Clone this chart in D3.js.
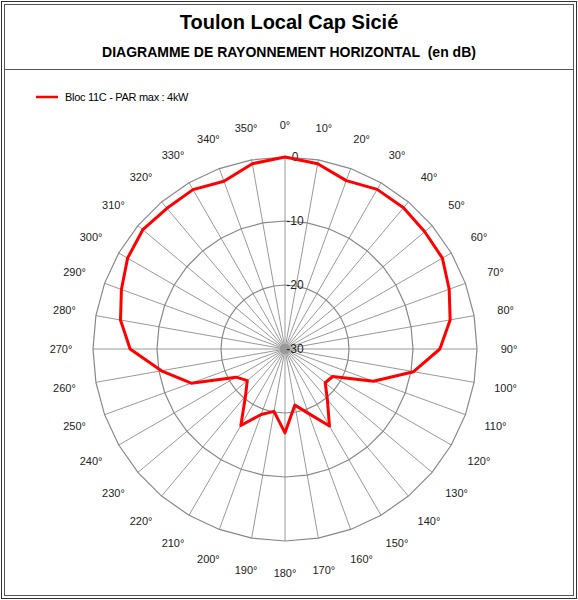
<!DOCTYPE html>
<html>
<head>
<meta charset="utf-8">
<script src="https://cdn.jsdelivr.net/npm/d3@7"></script>
<style>
  body { margin: 0; background: #fff; }
  svg { font-family: "Liberation Sans", Arial, sans-serif; }
</style>
</head>
<body>
<svg id="chart" width="578" height="600"></svg>
<script>
const angles = d3.range(0, 360, 10);
const levels = [-1.4, -0.6, -2.0, -1.2, -1.2, -1.5, -1.6, -2.7, -3.8, -5.8,
                -9.6, -15.3, -21.4, -21.8, -19.7, -16.1, -19.3, -21.1, -16.9, -20.1,
                -19.1, -16.2, -20.4, -22.3, -21.2, -14.4, -10.4, -5.8, -3.9, -2.8,
                -1.6, -1.0, -1.3, -1.25, -2.1, -0.6];
levels[0] = 0;
const ringLevels = [0, -10, -20];
const ringLabels = ["0", "-10", "-20", "-30"];
const seriesName = "Bloc 11C - PAR max : 4kW";

const svg = d3.select("#chart");
const cx = 285, cy = 349;
const r = d3.scaleLinear().domain([-30, 0]).range([0, 192]);
const a = d3.scaleLinear().domain([0, 360]).range([0, 2 * Math.PI]);

// frame
svg.append("rect").attr("x", 1.5).attr("y", 1.5).attr("width", 575).attr("height", 597)
    .attr("fill", "none").attr("stroke", "#333");
svg.append("rect").attr("x", 4.5).attr("y", 4.5).attr("width", 569).attr("height", 591)
    .attr("fill", "none").attr("stroke", "#555");
svg.append("line").attr("x1", 5).attr("x2", 573).attr("y1", 69.5).attr("y2", 69.5)
    .attr("stroke", "#555");

svg.append("text").attr("x", 289).attr("y", 29).attr("text-anchor", "middle")
    .attr("font-size", 20).attr("font-weight", "bold").text("Toulon Local Cap Sicié");
svg.append("text").attr("x", 289).attr("y", 57).attr("text-anchor", "middle")
    .attr("font-size", 14).attr("font-weight", "bold")
    .attr("xml:space", "preserve").text("DIAGRAMME DE RAYONNEMENT HORIZONTAL  (en dB)");

// legend
svg.append("line").attr("x1", 36).attr("x2", 58).attr("y1", 97).attr("y2", 97)
    .attr("stroke", "red").attr("stroke-width", 2.5);
svg.append("text").attr("x", 65).attr("y", 101).attr("font-size", 11)
    .attr("letter-spacing", -0.3).text(seriesName);

const g = svg.append("g").attr("transform", `translate(${cx},${cy})`);

// spokes
g.selectAll(".spoke").data(angles).enter().append("line")
    .attr("x1", 0).attr("y1", 0)
    .attr("x2", d => r(0) * Math.sin(a(d)))
    .attr("y2", d => -r(0) * Math.cos(a(d)))
    .attr("stroke", "#999").attr("stroke-width", 1);

// rings
g.selectAll(".ring").data(ringLevels).enter().append("path")
    .attr("d", lv => d3.line()(angles.concat([0]).map(d => [r(lv) * Math.sin(a(d)), -r(lv) * Math.cos(a(d))])))
    .attr("fill", "none").attr("stroke", "#888").attr("stroke-width", 1.2);

g.append("circle").attr("r", 5).attr("fill", "#999");

// ring labels
g.selectAll(".rl").data(ringLabels).enter().append("text")
    .attr("x", 10).attr("y", (d, i) => -r(-10 * i) + 4)
    .attr("text-anchor", "middle").attr("font-size", 12).attr("fill", "#222")
    .text(d => d);

// angle labels
g.selectAll(".al").data(angles).enter().append("text")
    .attr("x", d => 224 * Math.sin(a(d)))
    .attr("y", d => -224 * Math.cos(a(d)) + 4)
    .attr("text-anchor", "middle").attr("font-size", 11).attr("fill", "#222")
    .text(d => d + "°");

// series
const line = d3.lineRadial().angle((d, i) => a(angles[i])).radius(d => r(d))
    .curve(d3.curveLinearClosed);
g.append("path").attr("d", line(levels))
    .attr("fill", "none").attr("stroke", "red").attr("stroke-width", 3)
    .attr("stroke-linejoin", "round");
</script>
</body>
</html>
